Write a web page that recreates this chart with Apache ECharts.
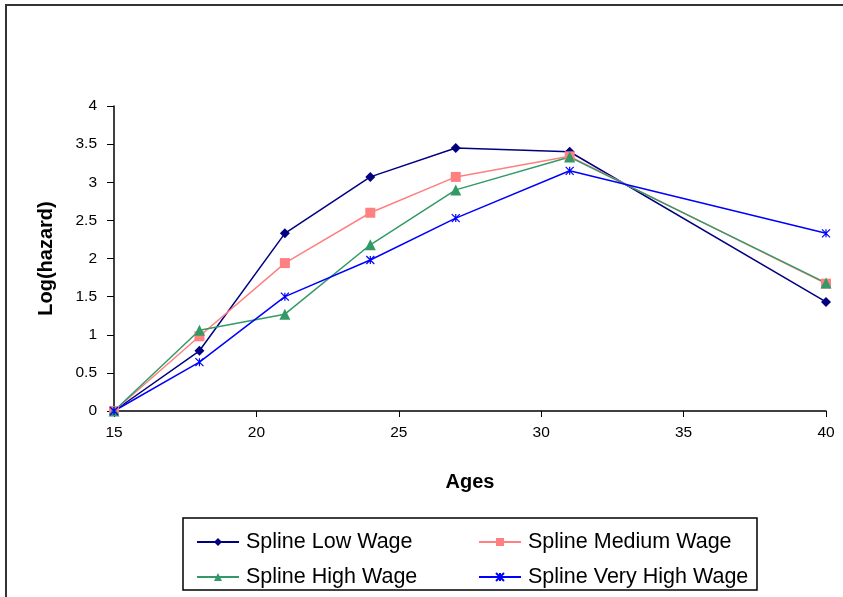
<!DOCTYPE html>
<html><head><meta charset="utf-8">
<script src="https://cdn.jsdelivr.net/npm/echarts@6/dist/echarts.min.js"></script>
<style>html,body{margin:0;padding:0;background:#fff}#c{width:843px;height:597px}</style>
</head><body><div id="c"></div>
<script>
const ages = [15, 18, 21, 24, 27, 31, 40];
const lowWage = [0, 0.79, 2.33, 3.07, 3.45, 3.40, 1.43];
const mediumWage = [0, 0.98, 1.94, 2.60, 3.07, 3.34, 1.67];
const highWage = [0, 1.06, 1.27, 2.18, 2.90, 3.33, 1.68];
const veryHighWage = [0, 0.64, 1.50, 1.98, 2.53, 3.15, 2.33];
const seriesNames = ['Spline Low Wage', 'Spline Medium Wage', 'Spline High Wage', 'Spline Very High Wage'];

const pairs = arr => ages.map((a, i) => [a, arr[i]]);
const font = 'Liberation Sans, Arial, sans-serif';
const chart = echarts.init(document.getElementById('c'));
const starPath = 'path://M0,0L10,10M10,0L0,10M5,0L5,10';
function mk(name, data, color, symbol, size, extra) {
  return Object.assign({
    name, type: 'line', data: pairs(data), symbol, symbolSize: size,
    lineStyle: { color, width: 1.5 }, itemStyle: { color },
    animation: false, z: 3
  }, extra || {});
}
const legendCommon = {
  orient: 'vertical', top: 526, itemWidth: 42, itemHeight: 10, itemGap: 13,
  textStyle: { fontFamily: font, fontSize: 21.5, color: '#000', padding: [0, 0, 0, 2] }
};
chart.setOption({
  animation: false,
  grid: { left: 114, right: 17, top: 106, bottom: 186 },
  xAxis: {
    type: 'value', min: 15, max: 40, interval: 5,
    name: 'Ages', nameLocation: 'middle', nameGap: 61,
    nameTextStyle: { fontFamily: font, fontSize: 20, fontWeight: 'bold', color: '#000' },
    axisLine: { lineStyle: { color: '#000', width: 1.5 } },
    axisTick: { lineStyle: { color: '#000' }, length: 6 },
    axisLabel: { fontFamily: font, fontSize: 15.5, color: '#000', margin: 14 },
    splitLine: { show: false }
  },
  yAxis: {
    type: 'value', min: 0, max: 4, interval: 0.5,
    name: 'Log(hazard)', nameLocation: 'middle', nameGap: 58,
    nameTextStyle: { fontFamily: font, fontSize: 20, fontWeight: 'bold', color: '#000' },
    axisLine: { show: true, lineStyle: { color: '#000', width: 1.5 } },
    axisTick: { show: true, lineStyle: { color: '#000' }, length: 7 },
    axisLabel: { fontFamily: font, fontSize: 15.5, color: '#000', margin: 17 },
    splitLine: { show: false }
  },
  legend: [
    Object.assign({ data: [seriesNames[0], seriesNames[2]], left: 191 }, legendCommon),
    Object.assign({ data: [seriesNames[1], seriesNames[3]], left: 473 }, legendCommon)
  ],
  graphic: [
    { type: 'rect', shape: { x: 6, y: 5, width: 900, height: 700 },
      style: { fill: 'none', stroke: '#333', lineWidth: 2 }, silent: true },
    { type: 'rect', shape: { x: 183, y: 518, width: 574, height: 72 },
      style: { fill: 'none', stroke: '#000', lineWidth: 1.5 }, silent: true }
  ],
  series: [
    mk(seriesNames[0], lowWage, '#000080', 'diamond', 10),
    mk(seriesNames[1], mediumWage, '#FF8080', 'rect', 10),
    mk(seriesNames[2], highWage, '#339966', 'triangle', 11),
    mk(seriesNames[3], veryHighWage, '#0000FF', starPath, 8,
       { itemStyle: { color: '#0000FF', borderColor: '#0000FF', borderWidth: 1.2 } })
  ]
});
</script></body></html>
